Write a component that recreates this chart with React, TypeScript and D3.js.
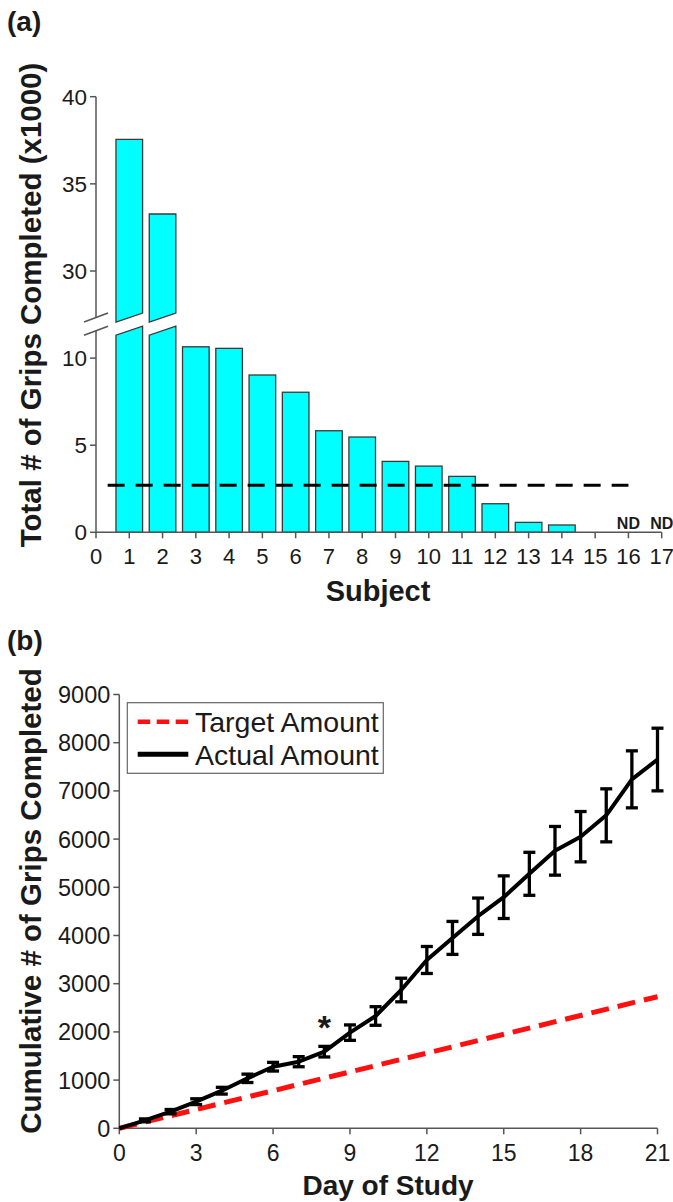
import React from "react";
import * as d3 from "d3";

// ---------- Panel (a) data ----------
const subjectTicks = [0, 1, 2, 3, 4, 5, 6, 7, 8, 9, 10, 11, 12, 13, 14, 15, 16, 17];
const subjects = [1, 2, 3, 4, 5, 6, 7, 8, 9, 10, 11, 12, 13, 14, 15];
const gripsK = [37.55, 33.27, 10.65, 10.56, 9.03, 8.04, 5.83, 5.47, 4.07, 3.8, 3.21, 1.64, 0.57, 0.42, 0];
const ndSubjects = [16, 17];
const lowerTicks = [0, 5, 10];
const upperTicks = [30, 35, 40];
const breakLow = 11.57;
const breakHigh = 27.33;
const thresholdK = 2.7;
const thresholdSpan = [0.35, 16];

// ---------- Panel (b) data ----------
const days = [0, 1, 2, 3, 4, 5, 6, 7, 8, 9, 10, 11, 12, 13, 14, 15, 16, 17, 18, 19, 20, 21];
const actual = [0, 165, 345, 552, 780, 1037, 1278, 1382, 1590, 1985, 2330, 2869, 3492, 3950, 4400, 4795, 5280, 5757, 6050, 6493, 7240, 7651];
const sem = [0, 30, 45, 60, 70, 87, 90, 105, 110, 160, 193, 245, 280, 342, 377, 442, 446, 505, 522, 550, 591, 650];
const targetDays = [0, 21];
const targetValues = [0, 2730];
const dayTicks = [0, 3, 6, 9, 12, 15, 18, 21];
const cumTicks = [0, 1000, 2000, 3000, 4000, 5000, 6000, 7000, 8000, 9000];
const starDay = 8;

const FONT = "'Liberation Sans', Arial, Helvetica, sans-serif";
const AXIS = "#555";
const TXT = "#1a1a1a";

export default function App() {
  // Panel a scales
  const xA = d3.scaleLinear().domain([0, 17]).range([96, 661.7]);
  const yLo = d3.scaleLinear().domain([0, 10]).range([532.3, 358.1]);
  const yHi = d3.scaleLinear().domain([30, 40]).range([271, 96.7]);
  const bw = (xA(1) - xA(0)) * 0.8;
  const slant = 4.5;
  const yLoBreak = yLo(breakLow);
  const yHiBreak = yHi(breakHigh);
  const ax0 = xA(0);

  // Panel b scales
  const xB = d3.scaleLinear().domain([0, 21]).range([119.3, 657.5]);
  const yB = d3.scaleLinear().domain([0, 9000]).range([1128.3, 694.5]);
  const line = d3
    .line<number>()
    .x((_, i) => xB(days[i]))
    .y((d) => yB(d));
  const targetLine = d3
    .line<number>()
    .x((_, i) => xB(targetDays[i]))
    .y((d) => yB(d));
  const capW = 12;

  return (
    <svg
      width={673}
      height={1202}
      viewBox="0 0 673 1202"
      style={{ position: "absolute", left: 0, top: 0, background: "#fff" }}
      fontFamily={FONT}
    >
      <rect x={0} y={0} width={673} height={1202} fill="#fff" />
      {/* ================= Panel (a) ================= */}
      <text x={7} y={31} fontSize={28} fontWeight="bold" fill={TXT}>
        (a)
      </text>

      {/* bars */}
      {subjects.map((s, i) => {
        const v = gripsK[i];
        const x0 = xA(s) - bw / 2;
        const x1 = xA(s) + bw / 2;
        if (v > breakHigh) {
          const lower = `M${x0},${yLo(0)} L${x0},${yLoBreak + slant} L${x1},${yLoBreak - slant} L${x1},${yLo(0)} Z`;
          const upper = `M${x0},${yHiBreak + slant} L${x1},${yHiBreak - slant} L${x1},${yHi(v)} L${x0},${yHi(v)} Z`;
          return (
            <g key={s}>
              <path d={lower} fill="#00ffff" stroke="#3a3a3a" strokeWidth={1.3} />
              <path d={upper} fill="#00ffff" stroke="#3a3a3a" strokeWidth={1.3} />
            </g>
          );
        }
        return (
          <rect
            key={s}
            x={x0}
            y={yLo(v)}
            width={bw}
            height={yLo(0) - yLo(v)}
            fill="#00ffff"
            stroke="#3a3a3a"
            strokeWidth={1.3}
          />
        );
      })}

      {/* threshold dashed line */}
      <line
        x1={xA(thresholdSpan[0])}
        x2={xA(thresholdSpan[1])}
        y1={yLo(thresholdK)}
        y2={yLo(thresholdK)}
        stroke="#000"
        strokeWidth={3.2}
        strokeDasharray="17,11"
      />

      {/* y axis with break */}
      <line x1={ax0} x2={ax0} y1={yHi(40)} y2={yHiBreak} stroke={AXIS} strokeWidth={1.5} />
      <line x1={ax0} x2={ax0} y1={yLoBreak} y2={yLo(0)} stroke={AXIS} strokeWidth={1.5} />
      <line x1={ax0 - 12} x2={ax0 + 12} y1={yHiBreak + 4.5} y2={yHiBreak - 4.5} stroke={AXIS} strokeWidth={1.5} />
      <line x1={ax0 - 12} x2={ax0 + 12} y1={yLoBreak + 4.5} y2={yLoBreak - 4.5} stroke={AXIS} strokeWidth={1.5} />
      {lowerTicks.map((t) => (
        <g key={"lt" + t}>
          <line x1={ax0 - 6} x2={ax0} y1={yLo(t)} y2={yLo(t)} stroke={AXIS} strokeWidth={1.5} />
          <text x={ax0 - 9} y={yLo(t)} dy="0.36em" textAnchor="end" fontSize={22.5} fill={TXT}>
            {t}
          </text>
        </g>
      ))}
      {upperTicks.map((t) => (
        <g key={"ut" + t}>
          <line x1={ax0 - 6} x2={ax0} y1={yHi(t)} y2={yHi(t)} stroke={AXIS} strokeWidth={1.5} />
          <text x={ax0 - 9} y={yHi(t)} dy="0.36em" textAnchor="end" fontSize={22.5} fill={TXT}>
            {t}
          </text>
        </g>
      ))}

      {/* x axis */}
      <line x1={xA(0)} x2={xA(17)} y1={yLo(0)} y2={yLo(0)} stroke={AXIS} strokeWidth={1.5} />
      {subjectTicks.map((t) => (
        <g key={"xt" + t}>
          <line x1={xA(t)} x2={xA(t)} y1={yLo(0)} y2={yLo(0) + 6} stroke={AXIS} strokeWidth={1.5} />
          <text x={xA(t)} y={564} textAnchor="middle" fontSize={22} fill={TXT}>
            {t}
          </text>
        </g>
      ))}
      {ndSubjects.map((s) => (
        <text key={"nd" + s} x={xA(s)} y={528.5} textAnchor="middle" fontSize={16} fontWeight="bold" fill={TXT}>
          ND
        </text>
      ))}

      <text x={378} y={601} textAnchor="middle" fontSize={29} fontWeight="bold" fill={TXT}>
        Subject
      </text>
      <text
        transform={`translate(41,305) rotate(-90)`}
        textAnchor="middle"
        fontSize={29.5}
        fontWeight="bold"
        fill={TXT}
      >
        Total # of Grips Completed (x1000)
      </text>

      {/* ================= Panel (b) ================= */}
      <text x={7} y={650} fontSize={28} fontWeight="bold" fill={TXT}>
        (b)
      </text>

      {/* axes */}
      <line x1={xB(0)} x2={xB(0)} y1={yB(9000)} y2={yB(0)} stroke={AXIS} strokeWidth={1.5} />
      <line x1={xB(0)} x2={xB(21)} y1={yB(0)} y2={yB(0)} stroke={AXIS} strokeWidth={1.5} />
      {cumTicks.map((t) => (
        <g key={"ct" + t}>
          <line x1={xB(0) - 6} x2={xB(0)} y1={yB(t)} y2={yB(t)} stroke={AXIS} strokeWidth={1.5} />
          <text x={xB(0) - 9} y={yB(t)} dy="0.36em" textAnchor="end" fontSize={23.5} fill={TXT}>
            {t}
          </text>
        </g>
      ))}
      {dayTicks.map((t) => (
        <g key={"dt" + t}>
          <line x1={xB(t)} x2={xB(t)} y1={yB(0)} y2={yB(0) + 6} stroke={AXIS} strokeWidth={1.5} />
          <text x={xB(t)} y={1160.5} textAnchor="middle" fontSize={23} fill={TXT}>
            {t}
          </text>
        </g>
      ))}

      {/* target */}
      <path d={targetLine(targetValues) || ""} fill="none" stroke="#ff1010" strokeWidth={5} strokeDasharray="18,9" />

      {/* actual line */}
      <path d={line(actual) || ""} fill="none" stroke="#000" strokeWidth={4} strokeLinejoin="round" />
      {days.map((d, i) =>
        sem[i] > 0 ? (
          <g key={"eb" + d} stroke="#000" strokeWidth={3.3}>
            <line x1={xB(d)} x2={xB(d)} y1={yB(actual[i] - sem[i])} y2={yB(actual[i] + sem[i])} />
            <line x1={xB(d) - capW / 2} x2={xB(d) + capW / 2} y1={yB(actual[i] - sem[i])} y2={yB(actual[i] - sem[i])} />
            <line x1={xB(d) - capW / 2} x2={xB(d) + capW / 2} y1={yB(actual[i] + sem[i])} y2={yB(actual[i] + sem[i])} />
          </g>
        ) : null
      )}

      <text x={xB(starDay)} y={1039} textAnchor="middle" fontSize={34} fontWeight="bold" fill={TXT}>
        *
      </text>

      {/* legend */}
      <rect x={127.3} y={702.7} width={256} height={70.6} fill="#fff" stroke="#666" strokeWidth={1.2} />
      <line x1={137.7} x2={188.3} y1={721.7} y2={721.7} stroke="#ff1010" strokeWidth={4.5} strokeDasharray="12.5,6.5" />
      <line x1={137.7} x2={188.3} y1={754.3} y2={754.3} stroke="#000" strokeWidth={5} />
      <text x={195} y={731.7} fontSize={28.5} fill={TXT}>
        Target Amount
      </text>
      <text x={195} y={764.5} fontSize={28.5} fill={TXT}>
        Actual Amount
      </text>

      <text x={388} y={1195} textAnchor="middle" fontSize={28} fontWeight="bold" fill={TXT}>
        Day of Study
      </text>
      <text
        transform={`translate(41,901) rotate(-90)`}
        textAnchor="middle"
        fontSize={29.5}
        fontWeight="bold"
        fill={TXT}
      >
        Cumulative # of Grips Completed
      </text>
    </svg>
  );
}
